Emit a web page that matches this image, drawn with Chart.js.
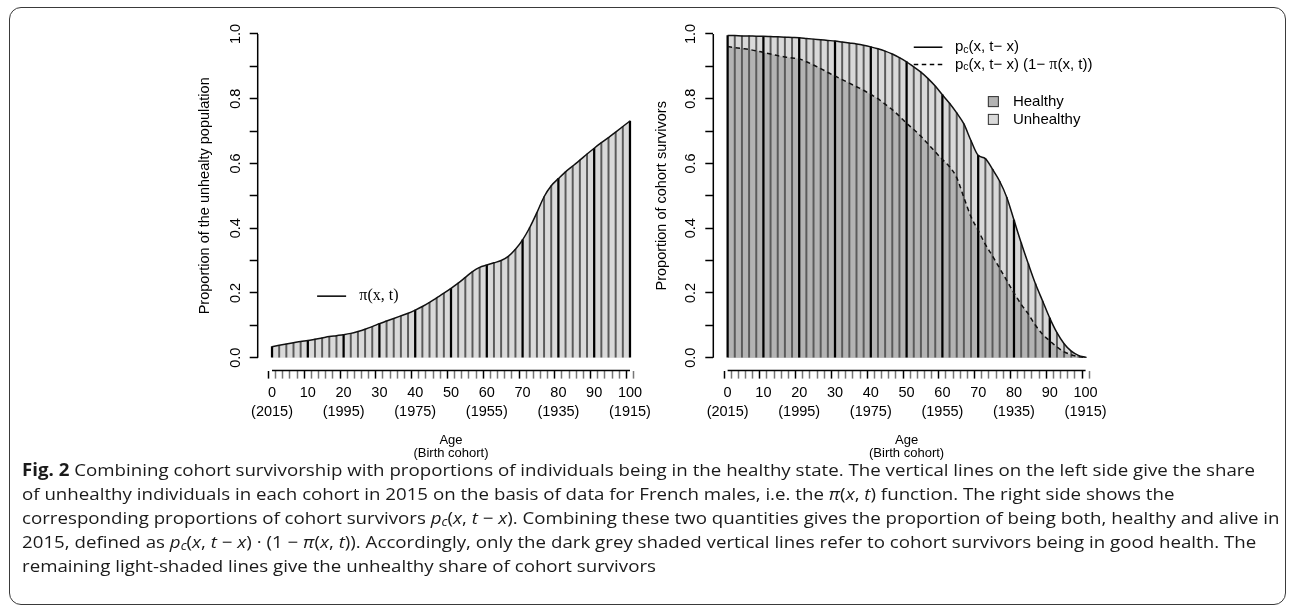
<!DOCTYPE html>
<html>
<head>
<meta charset="utf-8">
<script src="https://cdn.jsdelivr.net/npm/chart.js@4.4.1/dist/chart.umd.min.js"></script>
<style>
body { margin: 0; width: 1290px; height: 613px; background: #fff; position: relative; overflow: hidden; }
#frame { position: absolute; left: 9px; top: 7px; width: 1277px; height: 598px; border: 1.5px solid #3a3a3a; border-radius: 12px; box-sizing: border-box; }
canvas { position: absolute; top: 0; }
#leftChart { left: 190px; }
#rightChart { left: 645px; }
#caption { position: absolute; left: 22px; top: 458px; font-family: "Open Sans", sans-serif; font-size: 17px; line-height: 24px; color: #1a1a1a; white-space: nowrap; transform-origin: 0 0; }
#caption sub { font-size: 70%; vertical-align: -2px; line-height: 0; }
</style>
</head>
<body>
<div id="frame"></div>
<canvas id="leftChart" width="475" height="460"></canvas>
<canvas id="rightChart" width="475" height="460"></canvas>
<div id="caption">
<div><span id="capLine1"><b>Fig. 2</b> Combining cohort survivorship with proportions of individuals being in the healthy state. The vertical lines on the left side give the share</span></div>
<div>of unhealthy individuals in each cohort in 2015 on the basis of data for French males, i.e. the <i>π</i>(<i>x</i>, <i>t</i>) function. The right side shows the</div>
<div>corresponding proportions of cohort survivors <i>p<sub>c</sub></i>(<i>x</i>, <i>t</i> − <i>x</i>). Combining these two quantities gives the proportion of being both, healthy and alive in</div>
<div>2015, defined as <i>p<sub>c</sub></i>(<i>x</i>, <i>t</i> − <i>x</i>) · (1 − <i>π</i>(<i>x</i>, <i>t</i>)). Accordingly, only the dark grey shaded vertical lines refer to cohort survivors being in good health. The</div>
<div>remaining light-shaded lines give the unhealthy share of cohort survivors</div>
</div>
<script>
// ages (every 2 years) and the three curves
const ages = [0, 2, 4, 6, 8, 10, 12, 14, 16, 18, 20, 22, 24, 26, 28, 30, 32, 34, 36, 38, 40,
    42, 44, 46, 48, 50, 52, 54, 56, 58, 60, 62, 64, 66, 68, 70, 72, 74, 76, 78, 80,
    82, 84, 86, 88, 90, 92, 94, 96, 98, 100];

// pi(x, t): share of unhealthy
const unhealthyShare = [0.034, 0.038, 0.042, 0.046, 0.050, 0.053, 0.057, 0.061, 0.065, 0.068, 0.071,
    0.075, 0.081, 0.088, 0.096, 0.105, 0.113, 0.121, 0.129, 0.137, 0.147,
    0.158, 0.171, 0.185, 0.199, 0.214, 0.230, 0.248, 0.266, 0.279, 0.286,
    0.293, 0.300, 0.313, 0.335, 0.364, 0.402, 0.448, 0.497, 0.531, 0.553,
    0.574, 0.592, 0.610, 0.629, 0.647, 0.664, 0.680, 0.697, 0.714, 0.731];

// p_c(x, t - x): cohort survivors
const survivors = [0.995, 0.995, 0.994, 0.994, 0.993, 0.993, 0.992, 0.991, 0.990, 0.989, 0.988,
    0.986, 0.984, 0.982, 0.980, 0.978, 0.975, 0.972, 0.969, 0.965, 0.960,
    0.954, 0.947, 0.938, 0.927, 0.914, 0.898, 0.882, 0.862, 0.839, 0.812,
    0.786, 0.756, 0.722, 0.670, 0.625, 0.615, 0.582, 0.545, 0.495, 0.425,
    0.355, 0.290, 0.228, 0.175, 0.122, 0.077, 0.043, 0.020, 0.007, 0.001];

// p_c(x, t - x) (1 - pi(x, t)): healthy survivors
const healthySurvivors = [0.961, 0.958, 0.955, 0.952, 0.948, 0.943, 0.938, 0.933, 0.929, 0.926, 0.923,
    0.914, 0.904, 0.893, 0.881, 0.870, 0.859, 0.848, 0.837, 0.826, 0.813,
    0.800, 0.783, 0.766, 0.746, 0.724, 0.705, 0.684, 0.660, 0.636, 0.612,
    0.590, 0.556, 0.495, 0.435, 0.393, 0.350, 0.314, 0.276, 0.238, 0.200,
    0.165, 0.135, 0.100, 0.072, 0.052, 0.033, 0.018, 0.009, 0.003, 0.001];

const yTickValues = [0, 0.1, 0.2, 0.3, 0.4, 0.5, 0.6, 0.7, 0.8, 0.9, 1.0];
const yTickLabels = ['0.0', '', '0.2', '', '0.4', '', '0.6', '', '0.8', '', '1.0'];
const ageLabels = ['0', '10', '20', '30', '40', '50', '60', '70', '80', '90', '100'];
const cohortLabels = ['(2015)', '', '(1995)', '', '(1975)', '', '(1955)', '', '(1935)', '', '(1915)'];

const FONT = '"Liberation Sans", Arial, sans-serif';
const LIGHT = '#d9d9d9';
const DARK = '#b3b3b3';

const xTickLabels = ages.map(a => a % 10 === 0 ? [ageLabels[a / 10], cohortLabels[a / 10]] : '');

function points(values) {
    return ages.map((a, i) => ({ x: a, y: values[i] }));
}
function verticalLines(values, major) {
    return ages.map((a, i) => ({ x: a, y: values[i] }))
        .filter(p => (p.x % 10 === 0) === major);
}

// R style axes: the axis line only spans the data range
const rAxes = {
    id: 'rAxes',
    afterDraw(chart) {
        const { ctx, scales: { x, y } } = chart;
        ctx.save();
        ctx.strokeStyle = '#000';
        ctx.lineWidth = 1.5;
        ctx.beginPath();
        ctx.moveTo(x.getPixelForValue(0), x.top);
        ctx.lineTo(x.getPixelForValue(100), x.top);
        ctx.moveTo(y.right, y.getPixelForValue(0));
        ctx.lineTo(y.right, y.getPixelForValue(1));
        ctx.stroke();
        ctx.restore();
    }
};

function drawParts(ctx, parts, x, y) {
    parts.forEach(p => {
        ctx.font = p[1] + 'px ' + p[3];
        ctx.fillText(p[0], x, y + p[2]);
        x += ctx.measureText(p[0]).width;
    });
}

const piLegend = {
    id: 'piLegend',
    afterDatasetsDraw(chart) {
        const { ctx, scales: { x, y } } = chart;
        const yy = y.getPixelForValue(0.19);
        ctx.save();
        ctx.strokeStyle = '#000';
        ctx.lineWidth = 1.5;
        ctx.beginPath();
        ctx.moveTo(x.getPixelForValue(12.6), yy);
        ctx.lineTo(x.getPixelForValue(20.7), yy);
        ctx.stroke();
        ctx.fillStyle = '#000';
        ctx.textBaseline = 'middle';
        ctx.font = '16px "Liberation Serif", serif';
        ctx.fillText('π(x, t)', x.getPixelForValue(24.4), yy);
        ctx.restore();
    }
};

const survLegend = {
    id: 'survLegend',
    afterDatasetsDraw(chart) {
        const { ctx, scales: { x, y } } = chart;
        const x0 = x.getPixelForValue(52), x1 = x.getPixelForValue(60), tx = x.getPixelForValue(63.5);
        const y1 = y.getPixelForValue(0.959), y2 = y.getPixelForValue(0.906);
        ctx.save();
        ctx.strokeStyle = '#000';
        ctx.lineWidth = 1.5;
        ctx.beginPath();
        ctx.moveTo(x0, y1); ctx.lineTo(x1, y1);
        ctx.stroke();
        ctx.setLineDash([4.5, 3.5]);
        ctx.beginPath();
        ctx.moveTo(x0, y2); ctx.lineTo(x1, y2);
        ctx.stroke();
        ctx.setLineDash([]);
        ctx.fillStyle = '#000';
        ctx.textBaseline = 'middle';
        const serif = '"Liberation Serif", serif';
        drawParts(ctx, [['p', 15, 0, FONT], ['c', 10.5, 3, FONT], ['(x, t\u2212 x)', 15, 0, FONT]], tx, y1);
        drawParts(ctx, [['p', 15, 0, FONT], ['c', 10.5, 3, FONT], ['(x, t\u2212 x) (1\u2212 ', 15, 0, FONT],
            ['π', 16, 0, serif], ['(x, t))', 15, 0, FONT]], tx, y2);
        // fill boxes
        const bx = x.getPixelForValue(72.7);
        [[0.791, DARK, 'Healthy'], [0.736, LIGHT, 'Unhealthy']].forEach(b => {
            const by = y.getPixelForValue(b[0]);
            ctx.fillStyle = b[1];
            ctx.fillRect(bx, by - 5.5, 11, 11);
            ctx.lineWidth = 1;
            ctx.strokeStyle = '#333';
            ctx.strokeRect(bx + 0.5, by - 5, 10, 10);
            ctx.fillStyle = '#000';
            ctx.font = '15px ' + FONT;
            ctx.fillText(b[2], x.getPixelForValue(79.7), by);
        });
        ctx.restore();
    }
};

function makeScales(yWidth, yTitle, titlePad) {
    return {
        x: {
            type: 'linear', min: -4, max: 104, offset: false,
            afterBuildTicks: s => { s.ticks = ages.map(v => ({ value: v })); },
            afterFit: s => { s.height = 89.4; },
            border: { display: false },
            grid: {
                drawOnChartArea: false, tickLength: 8, tickWidth: 1.5,
                tickColor: c => (c.tick && c.tick.value % 10 === 0) ? '#000' : '#777'
            },
            ticks: {
                autoSkip: false, maxRotation: 0, minRotation: 0, padding: 5, color: '#000',
                font: { family: FONT, size: 14.5, lineHeight: 1.31 },
                callback: (v, i) => xTickLabels[i]
            },
            title: {
                display: true, text: ['Age', '(Birth cohort)'], color: '#000',
                font: { family: FONT, size: 13, lineHeight: 0.98 },
                padding: { top: 0, bottom: 0.5 }
            }
        },
        y: {
            type: 'linear', min: -0.04, max: 1.04,
            afterBuildTicks: s => { s.ticks = yTickValues.map(v => ({ value: v })); },
            afterFit: s => { s.width = yWidth; },
            border: { display: false },
            grid: { drawOnChartArea: false, tickLength: 8, tickWidth: 1.5, tickColor: '#000' },
            ticks: {
                minRotation: 90, maxRotation: 90, crossAlign: 'center', padding: 4, color: '#000',
                font: { family: FONT, size: 14.5 },
                callback: (v, i) => yTickLabels[i]
            },
            title: {
                display: true, text: yTitle, color: '#000',
                font: { family: FONT, size: 14.5 },
                padding: { top: titlePad, bottom: 0 }
            }
        }
    };
}

function barSet(values, major) {
    return {
        type: 'bar', data: verticalLines(values, major),
        backgroundColor: major ? '#000' : '#5a5a5a', borderWidth: 0,
        barThickness: major ? 1.6 : 1.3, grouped: false, order: 5
    };
}

const commonOptions = {
    responsive: false,
    animation: false,
    devicePixelRatio: 1,
    plugins: { legend: { display: false }, tooltip: { enabled: false }, filler: { drawTime: 'beforeDatasetsDraw' } },
    elements: { point: { radius: 0 } }
};

window.onload = function() {
    // stretch the caption so its first line spans the same width as the original
    const line1 = document.getElementById('capLine1').getBoundingClientRect().width;
    document.getElementById('caption').style.transform = 'scaleX(' + (1233 / line1) + ')';

    new Chart(document.getElementById('leftChart').getContext('2d'), {
        type: 'line',
        data: {
            datasets: [
                {
                    label: 'π(x, t)', data: points(unhealthyShare),
                    borderColor: '#111', borderWidth: 1.5, backgroundColor: LIGHT,
                    fill: 'origin', cubicInterpolationMode: 'monotone', order: 0
                },
                barSet(unhealthyShare, false),
                barSet(unhealthyShare, true)
            ]
        },
        options: Object.assign({}, commonOptions, {
            layout: { padding: { left: 0, top: 21, right: 20.7, bottom: 0 } },
            scales: makeScales(67.7, 'Proportion of the unhealty population', 6.3)
        }),
        plugins: [rAxes, piLegend]
    });

    new Chart(document.getElementById('rightChart').getContext('2d'), {
        type: 'line',
        data: {
            datasets: [
                {
                    label: 'Healthy', data: points(healthySurvivors),
                    borderColor: '#111', borderWidth: 1.5, borderDash: [4.5, 3.5], backgroundColor: DARK,
                    fill: 'origin', cubicInterpolationMode: 'monotone', order: 0
                },
                {
                    label: 'Unhealthy', data: points(survivors),
                    borderColor: '#111', borderWidth: 1.5, backgroundColor: LIGHT,
                    fill: 'origin', cubicInterpolationMode: 'monotone', order: 1
                },
                barSet(survivors, false),
                barSet(survivors, true)
            ]
        },
        options: Object.assign({}, commonOptions, {
            layout: { padding: { left: 0, top: 21, right: 20.1, bottom: 0 } },
            scales: makeScales(68.3, 'Proportion of cohort survivors', 8)
        }),
        plugins: [rAxes, survLegend]
    });
};
</script>
</body>
</html>
